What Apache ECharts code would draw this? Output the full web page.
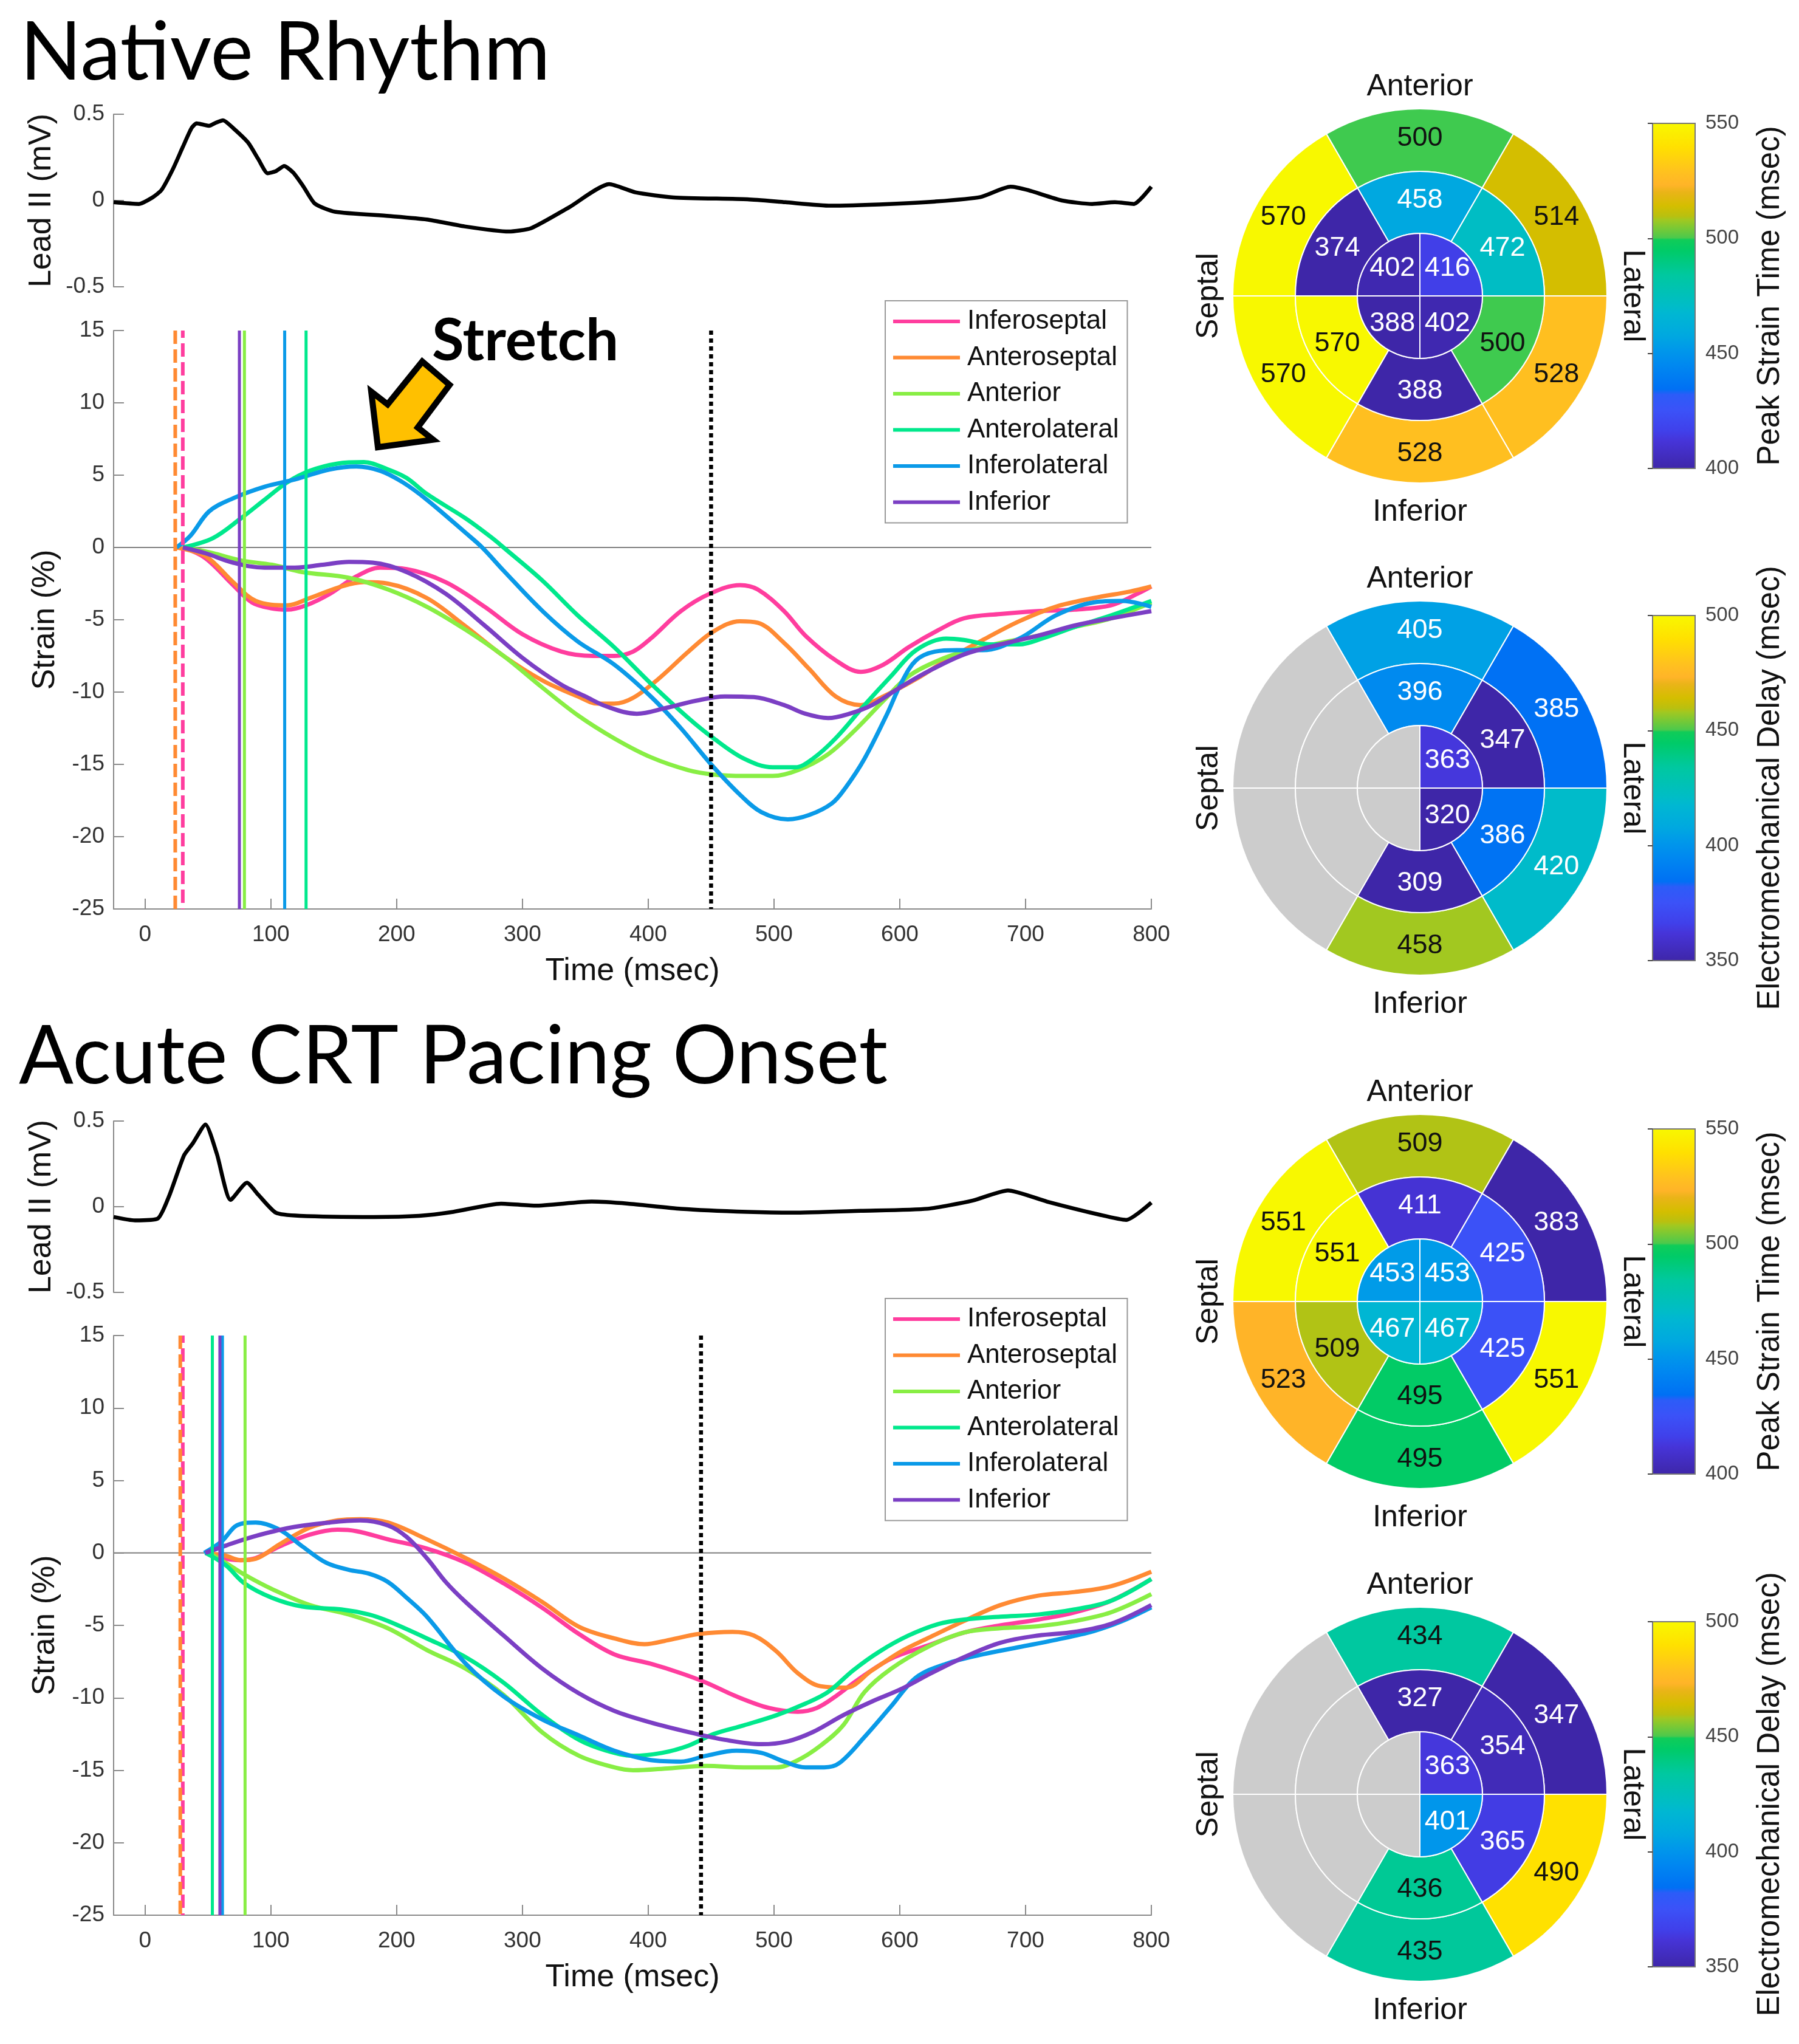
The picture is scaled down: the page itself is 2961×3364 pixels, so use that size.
<!DOCTYPE html>
<html>
<head>
<meta charset="utf-8">
<script src="https://cdn.jsdelivr.net/npm/echarts/dist/echarts.min.js"></script>
<style>
html,body{margin:0;padding:0;background:#fff;}
#c{width:2961px;height:3364px;}
</style>
</head>
<body>
<div id="c"></div>
<script>
// ================= DATA =================
const TIME_TICKS = [0, 100, 200, 300, 400, 500, 600, 700, 800];
const STRAIN_RANGE = [-25, 15];
const TIME_RANGE = [-25, 800];
const ECG_RANGE = [-0.5, 0.5];
const SEGMENT_NAMES = ['Inferoseptal', 'Anteroseptal', 'Anterior', 'Anterolateral', 'Inferolateral', 'Inferior'];

// Lead II ECG (time ms, mV)
const nrEcg = [[-25,-0.01],[-5,-0.02],[6,0.018],[13,0.06],[22,0.18],[30,0.31],[37,0.42],[41,0.447],[46,0.44],[51,0.433],[56,0.45],[62,0.465],[70,0.42],[82,0.335],[90,0.24],[97.5,0.158],[104,0.17],[110.6,0.20],[118,0.16],[126,0.08],[135,-0.018],[151,-0.065],[194,-0.09],[224,-0.11],[254,-0.15],[289,-0.18],[307,-0.16],[337,-0.04],[369,0.095],[390,0.047],[420,0.018],[479,0.007],[509,-0.01],[545,-0.03],[592,-0.02],[628,-0.006],[664,0.02],[688,0.08],[702,0.06],[729,0],[753,-0.02],[771,-0.01],[786,-0.02],[800,0.08]];
const crtEcg = [[-25,-0.06],[-8,-0.08],[10,-0.07],[19,0.06],[31,0.30],[38,0.37],[48,0.48],[57,0.31],[68,0.04],[81,0.14],[90,0.07],[104,-0.035],[123,-0.053],[182,-0.06],[218,-0.053],[245,-0.03],[283,0.018],[310,0.006],[355,0.03],[384,0.018],[426,-0.012],[479,-0.03],[515,-0.035],[569,-0.024],[622,-0.012],[658,0.036],[686,0.095],[717,0.03],[759,-0.047],[780,-0.077],[800,0.024]];

// Native rhythm strain curves (time ms, strain %)
const nrInferoseptal = [[30,0],[48,-0.74],[70,-2.6],[85,-3.8],[100,-4.2],[113,-4.3],[128,-4.0],[147,-3.2],[168,-2.0],[187,-1.4],[208,-1.5],[239,-2.4],[270,-4.1],[300,-6.0],[331,-7.2],[356,-7.5],[373,-7.5],[388,-7.2],[402,-6.3],[426,-4.4],[449,-3.2],[473,-2.6],[487,-2.9],[508,-4.4],[525,-6.1],[549,-7.8],[569,-8.6],[587,-8.1],[607,-6.9],[631,-5.7],[651,-4.9],[680,-4.6],[710,-4.4],[739,-4.3],[768,-4.0],[789,-3.2],[800,-2.7]];
const nrAnteroseptal = [[25,0],[48,-0.6],[70,-2.4],[88,-3.7],[113,-4.0],[131,-3.5],[156,-2.7],[174,-2.4],[193,-2.5],[224,-3.5],[254,-5.4],[285,-7.5],[316,-9.2],[344,-10.3],[360,-10.8],[373,-10.8],[388,-10.4],[408,-9.1],[432,-7.2],[452,-5.8],[473,-5.1],[487,-5.2],[508,-6.6],[528,-8.4],[549,-10.3],[569,-10.9],[587,-10.3],[613,-9.1],[637,-7.8],[666,-6.4],[695,-5.1],[724,-4.1],[754,-3.5],[783,-3.05],[800,-2.7]];
const nrAnterior = [[33,0],[54,-0.4],[76,-0.9],[101,-1.2],[125,-1.7],[162,-2.1],[193,-2.9],[224,-4.1],[255,-5.7],[285,-7.5],[316,-9.7],[344,-11.6],[373,-13.2],[402,-14.5],[432,-15.4],[452,-15.7],[476,-15.8],[499,-15.8],[519,-15.4],[543,-14.3],[566,-12.5],[587,-10.6],[607,-8.9],[631,-7.8],[651,-7.2],[680,-6.6],[710,-6.1],[739,-5.5],[768,-4.9],[800,-3.8]];
const nrAnterolateral = [[30,0],[54,0.65],[76,2.0],[95,3.3],[113,4.5],[131,5.3],[153,5.8],[174,5.9],[193,5.4],[208,4.8],[224,3.7],[255,2.0],[276,0.65],[285,0],[316,-2.3],[344,-4.7],[373,-6.9],[402,-9.4],[432,-11.8],[452,-13.2],[476,-14.6],[499,-15.2],[517,-15.2],[531,-14.6],[549,-13.2],[572,-10.9],[593,-8.9],[613,-7.1],[637,-6.3],[651,-6.4],[672,-6.7],[695,-6.7],[713,-6.3],[739,-5.5],[768,-4.7],[800,-3.7]];
const nrInferolateral = [[25,0],[36,0.8],[51,2.5],[70,3.4],[95,4.2],[119,4.7],[147,5.4],[168,5.6],[187,5.3],[205,4.5],[224,3.3],[255,1.0],[268,0],[285,-1.6],[316,-4.4],[344,-6.5],[373,-8.1],[402,-10.3],[426,-12.5],[449,-14.9],[473,-17.1],[490,-18.3],[511,-18.8],[528,-18.5],[546,-17.7],[557,-16.6],[572,-14.6],[590,-11.5],[601,-9.4],[613,-7.8],[628,-7.2],[645,-7.1],[666,-7.1],[695,-6.3],[724,-4.7],[754,-3.8],[777,-3.7],[800,-4.1]];
const nrInferior = [[30,0],[48,-0.4],[70,-1.05],[95,-1.4],[119,-1.4],[141,-1.2],[162,-1.0],[181,-1.05],[208,-1.7],[239,-3.2],[270,-5.4],[301,-7.7],[331,-9.5],[350,-10.3],[367,-11.0],[391,-11.5],[414,-11.1],[438,-10.6],[461,-10.3],[484,-10.35],[508,-10.9],[525,-11.5],[543,-11.8],[560,-11.5],[578,-10.9],[598,-9.8],[622,-8.6],[651,-7.4],[680,-6.7],[710,-6.1],[739,-5.4],[768,-4.9],[800,-4.4]];

// Acute CRT pacing strain curves
const crtInferoseptal = [[48,0],[61,-0.36],[76,-0.5],[88,-0.36],[107,0.45],[131,1.26],[153,1.6],[168,1.5],[193,0.94],[224,0.3],[255,-0.68],[285,-2.1],[316,-3.8],[345,-5.6],[373,-7.0],[402,-7.65],[426,-8.3],[446,-8.95],[470,-9.9],[496,-10.7],[519,-10.96],[534,-10.7],[549,-9.9],[566,-8.8],[593,-7.3],[622,-6.4],[651,-5.5],[680,-5.0],[710,-4.6],[739,-4.1],[768,-3.3],[800,-1.8]];
const crtAnteroseptal = [[48,0],[64,-0.2],[76,-0.5],[88,-0.4],[107,0.6],[131,1.75],[153,2.24],[171,2.33],[193,2.1],[224,0.94],[255,-0.36],[285,-1.75],[316,-3.4],[345,-5.1],[373,-5.9],[397,-6.3],[417,-6.0],[440,-5.6],[467,-5.45],[484,-5.7],[502,-6.8],[519,-8.3],[537,-9.2],[557,-9.3],[578,-8.1],[601,-6.8],[622,-5.9],[651,-4.7],[680,-3.6],[710,-2.95],[739,-2.7],[768,-2.3],[800,-1.3]];
const crtAnterior = [[51,0],[64,-0.68],[79,-1.5],[101,-2.5],[131,-3.6],[162,-4.25],[193,-5.2],[224,-6.7],[255,-8.0],[285,-9.8],[316,-12.4],[345,-14.0],[373,-14.8],[388,-15.0],[417,-14.86],[446,-14.7],[476,-14.8],[502,-14.8],[519,-14.3],[537,-13.3],[555,-11.9],[572,-9.6],[593,-8.0],[622,-6.5],[651,-5.5],[680,-5.2],[710,-5.06],[739,-4.7],[768,-4.1],[800,-2.85]];
const crtAnterolateral = [[48,0],[64,-0.84],[79,-2.1],[101,-3.1],[125,-3.7],[156,-3.9],[178,-4.25],[193,-4.7],[224,-5.9],[255,-7.2],[285,-8.95],[316,-11.2],[345,-12.9],[367,-13.65],[388,-14.0],[411,-13.8],[432,-13.3],[452,-12.5],[476,-11.9],[502,-11.2],[525,-10.4],[543,-9.6],[563,-8.1],[584,-6.8],[607,-5.7],[631,-4.9],[651,-4.6],[680,-4.4],[710,-4.25],[739,-3.9],[768,-3.3],[800,-1.8]];
const crtInferolateral = [[47,0],[61,0.8],[73,1.9],[88,2.1],[107,1.6],[125,0.45],[144,-0.68],[162,-1.17],[178,-1.43],[193,-2.0],[208,-3.1],[224,-4.4],[255,-7.65],[285,-9.9],[316,-11.5],[345,-12.6],[373,-13.65],[402,-14.3],[426,-14.4],[446,-14.0],[470,-13.65],[490,-13.8],[508,-14.4],[525,-14.8],[540,-14.8],[552,-14.5],[572,-12.7],[593,-10.6],[613,-8.6],[637,-7.65],[666,-7.0],[695,-6.5],[724,-6.0],[754,-5.4],[777,-4.7],[800,-3.76]];
const crtInferior = [[48,0],[64,0.5],[85,1.1],[116,1.75],[147,2.1],[171,2.24],[193,1.9],[208,1.1],[224,-0.36],[239,-2.0],[255,-3.4],[285,-5.7],[316,-8.0],[345,-9.7],[373,-10.9],[402,-11.7],[432,-12.36],[461,-12.9],[490,-13.2],[511,-13.0],[531,-12.36],[555,-11.2],[578,-10.25],[601,-9.4],[625,-8.3],[651,-7.2],[680,-6.2],[710,-5.7],[739,-5.45],[768,-4.9],[800,-3.6]];

// onset times (ms), order of SEGMENT_NAMES
const nrOnsetTimes = [30, 24, 79, 128, 111, 75];
const crtOnsetTimes = [30, 28, 79.5, 53.5, 61.5, 59.5];
const nrClosureTime = 450;
const crtClosureTime = 442;

// Bull's-eye values: ring order [Anterior, Anterolateral, Inferolateral, Inferior, Inferoseptal, Anteroseptal]
const RING_SEGMENTS = ['Anterior', 'Anterolateral', 'Inferolateral', 'Inferior', 'Inferoseptal', 'Anteroseptal'];
const APEX_SEGMENTS = ['Apex anterolateral', 'Apex inferolateral', 'Apex inferoseptal', 'Apex anteroseptal'];
const nrPeakBasal = [500, 514, 528, 528, 570, 570];
const nrPeakMid = [458, 472, 500, 388, 570, 374];
const nrPeakApex = [416, 402, 388, 402];
const nrEmdBasal = [405, 385, 420, 458, null, null];
const nrEmdMid = [396, 347, 386, 309, null, null];
const nrEmdApex = [363, 320, null, null];
const crtPeakBasal = [509, 383, 551, 495, 523, 551];
const crtPeakMid = [411, 425, 425, 495, 509, 551];
const crtPeakApex = [453, 467, 467, 453];
const crtEmdBasal = [434, 347, 490, 435, null, null];
const crtEmdMid = [327, 354, 365, 436, null, null];
const crtEmdApex = [363, 401, null, null];
const PEAK_RANGE = [400, 550];
const EMD_RANGE = [350, 500];

// ================= STYLE / LAYOUT =================
const FONT = "'Liberation Sans', Arial, sans-serif";
const TITLE_FONT = "Lato, 'Open Sans', sans-serif";
const SEG_COLORS = ['#FF3D9E', '#FF8A33', '#88EE44', '#00E88C', '#0A9AE8', '#7B3FC4'];
const AXIS_GRAY = '#8a8a8a';
const LABEL_COLOR = '#333';
const CMAP = [[0,'#3E26A8'],[0.08,'#4634D8'],[0.11,'#4040EA'],[0.17,'#3B52F8'],[0.215,'#2C5CF8'],[0.23,'#0070F4'],[0.30,'#0088F0'],[0.345,'#0098EA'],[0.385,'#00A8E0'],[0.45,'#00B7D2'],[0.47,'#00BCC8'],[0.56,'#00C8A0'],[0.63,'#00CB68'],[0.662,'#10CC58'],[0.668,'#4CC94C'],[0.72,'#A2C820'],[0.73,'#B8C010'],[0.76,'#D4BE00'],[0.80,'#EAB418'],[0.82,'#FFB428'],[0.855,'#FFC020'],[0.93,'#FFE000'],[1,'#F8F800']];
const NA_COLOR = '#CCCCCC';

const L = {
  left: 187, width: 1708,
  ecg: [{top: 188, height: 284}, {top: 1845, height: 282}],
  strain: [{top: 544, height: 952}, {top: 2198, height: 954}],
  legendTop: [495, 2137],
  bull: [[2337, 487], [2337, 1297], [2337, 2142], [2337, 2953]],
  radii: [103, 205, 308],
  cbLeft: 2720, cbWidth: 70, cbHeight: 568
};

function hexToRgb(h) { return [parseInt(h.slice(1,3),16), parseInt(h.slice(3,5),16), parseInt(h.slice(5,7),16)]; }
function cmapColor(t) {
  t = Math.max(0, Math.min(1, t));
  for (let i = 1; i < CMAP.length; i++) {
    if (t <= CMAP[i][0]) {
      const [t0, c0] = CMAP[i-1], [t1, c1] = CMAP[i];
      const f = (t - t0) / (t1 - t0 || 1);
      const a = hexToRgb(c0), b = hexToRgb(c1);
      return 'rgb(' + a.map((v, k) => Math.round(v + (b[k] - v) * f)).join(',') + ')';
    }
  }
  return CMAP[CMAP.length-1][1];
}
function norm(v, r) { return (v - r[0]) / (r[1] - r[0]); }

// ================= BUILD =================
const grids = [], xAxes = [], yAxes = [], series = [];

function timeAxis(gi, show) {
  return {
    gridIndex: gi, type: 'value', min: TIME_RANGE[0], max: TIME_RANGE[1], show: show,
    axisLine: {show: true, onZero: false, lineStyle: {color: AXIS_GRAY, width: 2}},
    axisTick: {show: true, inside: true, length: 17, customValues: TIME_TICKS, lineStyle: {color: AXIS_GRAY, width: 2}},
    axisLabel: {show: true, customValues: TIME_TICKS, fontSize: 37, color: LABEL_COLOR, fontFamily: FONT, margin: 24},
    splitLine: {show: false},
    name: show ? 'Time (msec)' : '', nameLocation: 'middle', nameGap: 77,
    nameTextStyle: {fontSize: 52, color: '#111', fontFamily: FONT}
  };
}
function valueYAxis(gi, range, interval, name, nameGap) {
  return {
    gridIndex: gi, type: 'value', min: range[0], max: range[1], interval: interval,
    axisLine: {show: true, onZero: false, lineStyle: {color: AXIS_GRAY, width: 2}},
    axisTick: {show: true, inside: true, length: 17, lineStyle: {color: AXIS_GRAY, width: 2}},
    axisLabel: {fontSize: 37, color: LABEL_COLOR, fontFamily: FONT, margin: 15},
    splitLine: {show: false},
    name: name, nameLocation: 'middle', nameGap: nameGap,
    nameTextStyle: {fontSize: 52, color: '#111', fontFamily: FONT}
  };
}
function addLine(gi, data, color, width, extra) {
  const s = Object.assign({
    type: 'line', xAxisIndex: gi, yAxisIndex: gi, data: data, symbol: 'none', showSymbol: false,
    silent: true, color: color, lineStyle: {color: color, width: width}, z: 2
  }, extra || {});
  series.push(s);
  return s;
}

const panels = [
  {ecg: nrEcg, curves: [nrInferoseptal, nrAnteroseptal, nrAnterior, nrAnterolateral, nrInferolateral, nrInferior], onset: nrOnsetTimes, closure: nrClosureTime},
  {ecg: crtEcg, curves: [crtInferoseptal, crtAnteroseptal, crtAnterior, crtAnterolateral, crtInferolateral, crtInferior], onset: crtOnsetTimes, closure: crtClosureTime}
];

panels.forEach((p, k) => {
  const gE = k * 2, gS = k * 2 + 1;
  grids[gE] = {left: L.left, width: L.width, top: L.ecg[k].top, height: L.ecg[k].height, containLabel: false};
  grids[gS] = {left: L.left, width: L.width, top: L.strain[k].top, height: L.strain[k].height, containLabel: false};
  xAxes[gE] = timeAxis(gE, false);
  xAxes[gS] = timeAxis(gS, true);
  yAxes[gE] = valueYAxis(gE, ECG_RANGE, 0.5, 'Lead II (mV)', 92);
  yAxes[gS] = valueYAxis(gS, STRAIN_RANGE, 5, 'Strain (%)', 86);

  addLine(gE, p.ecg, '#000', 6.5, {smooth: 0.2});
  addLine(gS, [[TIME_RANGE[0], 0], [TIME_RANGE[1], 0]], '#808080', 2, {z: 1});
  p.curves.forEach((c, i) => addLine(gS, c, SEG_COLORS[i], 7, {name: SEGMENT_NAMES[i], smooth: 0.35, z: 3}));
  p.onset.forEach((t, i) => {
    const dashed = i < 2;
    const w = dashed ? 6 : 5;
    addLine(gS, [[t, STRAIN_RANGE[1]], [t, STRAIN_RANGE[0]]], SEG_COLORS[i], w,
      {z: 4, lineStyle: {color: SEG_COLORS[i], width: w, type: dashed ? [22, 9] : 'solid', dashOffset: i === 0 ? 10 : 0}});
  });
  addLine(gS, [[p.closure, STRAIN_RANGE[1]], [p.closure, STRAIN_RANGE[0]]], '#000', 6.5,
    {z: 4, lineStyle: {color: '#000', width: 6.5, type: [7, 6]}});
});

// Bull's-eyes
const bulls = [
  {basal: nrPeakBasal, mid: nrPeakMid, apex: nrPeakApex, range: PEAK_RANGE, title: 'Peak Strain Time (msec)'},
  {basal: nrEmdBasal, mid: nrEmdMid, apex: nrEmdApex, range: EMD_RANGE, title: 'Electromechanical Delay (msec)'},
  {basal: crtPeakBasal, mid: crtPeakMid, apex: crtPeakApex, range: PEAK_RANGE, title: 'Peak Strain Time (msec)'},
  {basal: crtEmdBasal, mid: crtEmdMid, apex: crtEmdApex, range: EMD_RANGE, title: 'Electromechanical Delay (msec)'}
];
function ringData(names, vals, range, suffix) {
  return names.map((n, i) => {
    const v = vals[i];
    const has = v !== null && v !== undefined;
    return {
      name: n + ' ' + suffix, value: 1, ms: v,
      itemStyle: {color: has ? cmapColor(norm(v, range)) : NA_COLOR},
      label: {color: has && norm(v, range) > 0.5 ? '#111' : '#fff'}
    };
  });
}
function pie(center, radius, startAngle, data, showLabel, transparent) {
  return {
    type: 'pie', center: center, radius: radius, startAngle: startAngle, clockwise: true,
    silent: true, animation: false, avoidLabelOverlap: false, emphasis: {disabled: true},
    itemStyle: transparent ? {borderWidth: 0, color: 'rgba(0,0,0,0)'} : {borderColor: '#fff', borderWidth: 2},
    label: {show: showLabel, position: 'inside', fontSize: 45, fontFamily: FONT,
      formatter: (q) => (q.data.ms === null || q.data.ms === undefined) ? '' : String(q.data.ms)},
    labelLine: {show: false},
    data: transparent ? data.map(d => Object.assign({}, d, {itemStyle: {color: 'rgba(0,0,0,0)', borderWidth: 0}})) : data,
    z: 3
  };
}
const graphics = [];
const stops = CMAP.map(([o, c]) => ({offset: o, color: c}));
bulls.forEach((b, k) => {
  const c = L.bull[k], R = L.radii;
  series.push(pie(c, [R[1], R[2]], 120, ringData(RING_SEGMENTS, b.basal, b.range, 'basal'), true, false));
  series.push(pie(c, [R[0], R[1]], 120, ringData(RING_SEGMENTS, b.mid, b.range, 'mid'), true, false));
  const apex = ringData(APEX_SEGMENTS, b.apex, b.range, 'apical');
  series.push(pie(c, [0, R[0]], 90, apex, false, false));
  series.push(pie(c, [19, R[0]], 90, apex, true, true));

  // colorbar grid
  const gi = 4 + k;
  grids[gi] = {left: L.cbLeft, width: L.cbWidth, top: c[1] - L.cbHeight / 2, height: L.cbHeight};
  xAxes[gi] = {gridIndex: gi, type: 'value', min: 0, max: 1, show: false};
  yAxes[gi] = {
    gridIndex: gi, type: 'value', min: b.range[0], max: b.range[1], interval: 50, position: 'right', z: 5,
    axisLine: {show: false},
    axisTick: {show: true, inside: true, length: 8, lineStyle: {color: '#444', width: 2}},
    axisLabel: {fontSize: 33, color: '#444', fontFamily: FONT, margin: 17},
    splitLine: {show: false},
    name: b.title, nameLocation: 'middle', nameRotate: 90, nameGap: 98,
    nameTextStyle: {fontSize: 51, color: '#111', fontFamily: FONT}
  };
  series.push({
    type: 'custom', xAxisIndex: gi, yAxisIndex: gi, silent: true, animation: false,
    data: [[0, b.range[0], 1, b.range[1]]], encode: {x: [0, 2], y: [1, 3]},
    renderItem: (params, api) => {
      const p0 = api.coord([api.value(0), api.value(1)]);
      const p1 = api.coord([api.value(2), api.value(3)]);
      return {type: 'rect', shape: {x: p0[0], y: p1[1], width: p1[0] - p0[0], height: p0[1] - p1[1]},
        style: {fill: new echarts.graphic.LinearGradient(0, 1, 0, 0, stops), stroke: '#777', lineWidth: 2}};
    }
  });

  const lab = (text, x, y, rot) => ({type: 'text', x: x, y: y, rotation: rot || 0, silent: true,
    style: {text: text, fontSize: 50, fontFamily: FONT, fill: '#111', align: 'center', verticalAlign: 'middle'}});
  graphics.push(lab('Anterior', c[0], c[1] - 344));
  graphics.push(lab('Inferior', c[0], c[1] + 356));
  graphics.push(lab('Septal', c[0] - 347, c[1], Math.PI / 2));
  graphics.push(lab('Lateral', c[0] + 350, c[1], -Math.PI / 2));
});

graphics.push({type: 'text', x: 33, y: 88, silent: true,
  style: {text: 'Native Rhythm', fontSize: 133, fontFamily: TITLE_FONT, fill: '#000', verticalAlign: 'middle'}});
graphics.push({type: 'text', x: 31, y: 1740, silent: true,
  style: {text: 'Acute CRT Pacing Onset', fontSize: 133, fontFamily: TITLE_FONT, fill: '#000', verticalAlign: 'middle'}});
graphics.push({type: 'text', x: 711, y: 562, silent: true,
  style: {text: 'Stretch', fontSize: 96, fontWeight: 'bold', fontFamily: TITLE_FONT, fill: '#000', verticalAlign: 'middle'}});
graphics.push({type: 'polygon', silent: true, z: 10,
  shape: {points: [[638, 665.5], [611, 644.5], [622, 736], [713, 723.7], [687.5, 703.5], [740, 633.5], [695, 595]]},
  style: {fill: '#FFC000', stroke: '#000', lineWidth: 10, lineJoin: 'miter'}});

const legends = L.legendTop.map(top => ({
  data: SEGMENT_NAMES, orient: 'vertical', left: 1457, top: top, icon: 'rect',
  itemWidth: 110, itemHeight: 6, itemGap: 15.5, padding: [12, 14, 12, 13],
  borderColor: '#999', borderWidth: 2, backgroundColor: '#fff', selectedMode: false,
  textStyle: {fontSize: 44, lineHeight: 44, color: '#111', fontFamily: FONT, padding: [0, 0, 0, 7]}
}));

const chart = echarts.init(document.getElementById('c'), null, {renderer: 'canvas', width: 2961, height: 3364});
chart.setOption({
  backgroundColor: '#fff',
  animation: false,
  textStyle: {fontFamily: FONT},
  grid: grids, xAxis: xAxes, yAxis: yAxes,
  legend: legends,
  series: series,
  graphic: graphics
});
</script>
</body>
</html>
